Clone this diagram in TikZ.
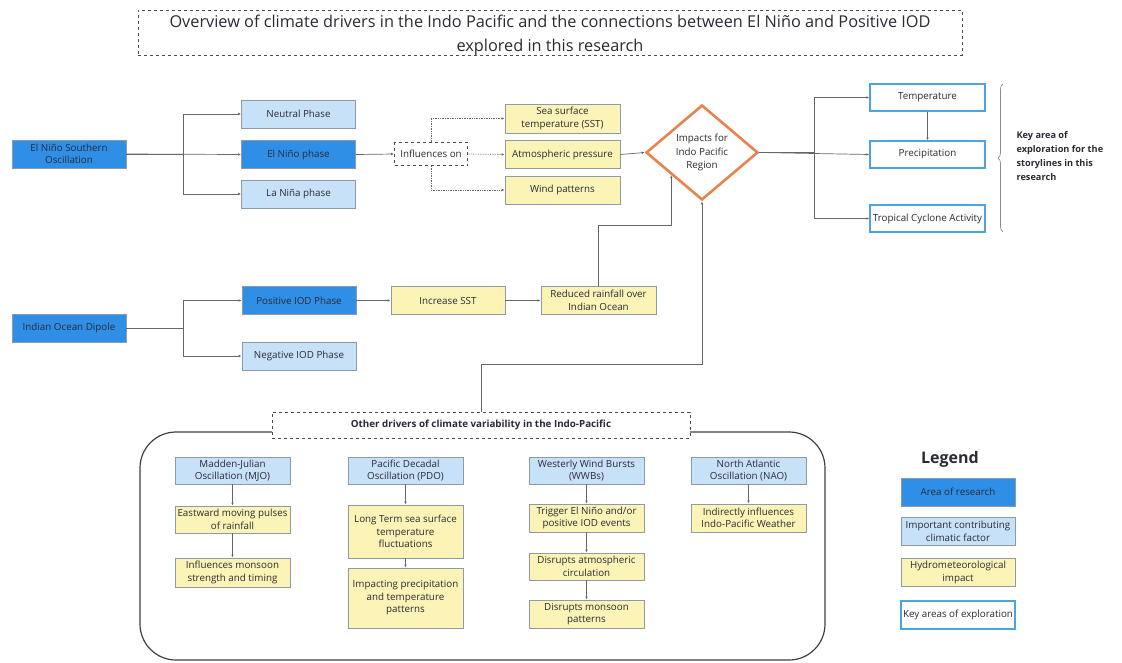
\documentclass[tikz,border=0pt]{standalone}
\usepackage{fontspec}
\setmainfont{Open Sans}
\usetikzlibrary{arrows.meta,shapes.geometric,decorations.pathreplacing,calc}
\definecolor{darkb}{HTML}{2F8FE6}
\definecolor{lightb}{HTML}{C7E2F8}
\definecolor{yel}{HTML}{FBF4B6}
\definecolor{bord}{HTML}{8C9BA6}
\definecolor{keyb}{HTML}{4CA3DE}
\definecolor{orng}{HTML}{E9834E}
\definecolor{lin}{HTML}{666666}
\definecolor{txt}{HTML}{2A2A35}
\tikzset{
  box/.style={draw=bord, line width=0.8pt, minimum width=114pt, minimum height=28pt, inner sep=1pt, align=center, font=\fontsize{9.8}{12.5}\selectfont, text=txt},
  dark/.style={box, fill=darkb},
  light/.style={box, fill=lightb},
  yb/.style={box, fill=yel},
  keyx/.style={box, draw=keyb, line width=1.3pt, fill=white},
  conn/.style={draw=lin, line width=0.7pt, -{Latex[length=3pt,width=2.5pt]}},
  dotc/.style={conn, densely dotted},
}
\begin{document}
\begin{tikzpicture}[x=1pt,y=-1pt]
\useasboundingbox (0,0) rectangle (1122,662);
% title
\node[draw=black!70, dashed, line width=0.8pt, minimum width=824pt, minimum height=45pt, inner sep=0pt] (titlebox) at (550,32.5) {};
\node[align=center, font=\fontsize{16.3}{24}\selectfont, text=txt, inner sep=0pt] (title) at (550,35.5) {Overview of climate drivers in the Indo Pacific and the connections between El Niño and Positive IOD\\explored in this research};
% ENSO
\node[dark] (enso) at (69,154) {El Niño Southern\\Oscillation};
\node[light] (neu) at (298.5,114) {Neutral Phase};
\node[dark] (eln) at (298.5,154.5) {El Niño phase};
\node[light] (lan) at (298.5,194) {La Niña phase};
\node[box, draw=black!70, dashed, line width=1pt, minimum width=73pt, minimum height=23pt] (inf) at (431,154) {Influences on};
\node[yb, minimum width=115pt, minimum height=29pt] (sst) at (562.5,118.5) {Sea surface\\temperature (SST)};
\node[yb, minimum width=115pt] (atm) at (562.5,154.5) {Atmospheric pressure};
\node[yb, minimum width=115pt] (wind) at (562.5,190) {Wind patterns};
\node[shape=diamond, draw=orng, line width=2.6pt, minimum width=112pt, minimum height=95pt, inner sep=0pt, align=center, font=\fontsize{9.8}{13.5}\selectfont, text=txt] (imp) at (702,152.5) {Impacts for\\Indo Pacific\\Region};
\node[keyx, minimum width=115pt, minimum height=27pt] (temp) at (927.5,97.5) {Temperature};
\node[keyx, minimum width=115pt, minimum height=27pt] (prec) at (927.5,154.5) {Precipitation};
\node[keyx, minimum width=115pt, minimum height=27pt] (tca) at (927.5,218.5) {Tropical Cyclone Activity};
\coordinate (bt) at (1003,84);
\coordinate (bb) at (1003,232);
\draw[draw=black!45, line width=0.7pt, decorate, decoration={brace, amplitude=5pt, mirror}] (bt) -- (bb);
\node[anchor=west, align=left, font=\bfseries\fontsize{9.2}{13.8}\selectfont, text=txt] (keytxt) at (1013,156) {Key area of\\exploration for the\\storylines in this\\research};
% IOD
\node[dark] (iod) at (69,328) {Indian Ocean Dipole};
\node[dark] (pos) at (299,300.5) {Positive IOD Phase};
\node[light] (neg) at (299,356) {Negative IOD Phase};
\node[yb] (inc) at (448,300.5) {Increase SST};
\node[yb, minimum width=115pt] (red) at (598.5,300.5) {Reduced rainfall over\\Indian Ocean};
% connectors top
\draw[conn] (enso.east) -- (eln.west);
\draw[conn] (enso.east) -- ++(57,0) |- (neu.west);
\draw[conn] (enso.east) -- ++(57,0) |- (lan.west);
\draw[conn] (eln.east) -- (inf.west);
\draw[dotc] (inf.north) |- (sst.west);
\draw[dotc] (inf.east) -- (atm.west);
\draw[dotc] (inf.south) |- (wind.west);
\draw[conn] (atm.east) -- (imp.west);
\draw[conn] (imp.east) -- (prec.west);
\draw[conn] (imp.east) -- ++(55,0) |- (temp.west);
\draw[conn] (imp.east) -- ++(55,0) |- (tca.west);
\draw[conn] (temp.south) -- (prec.north);
\draw[conn] (iod.east) -- ++(57,0) |- (pos.west);
\draw[conn] (iod.east) -- ++(57,0) |- (neg.west);
\draw[conn] (pos.east) -- (inc.west);
\draw[conn] (inc.east) -- (red.west);
\coordinate (rin) at ($(imp.west)!0.464!(imp.south)$);
\draw[conn] (red.north) |- ([yshift=-50pt]rin) -- (rin);
% bottom frame
\draw[draw=black!75, line width=1.2pt, rounded corners=36pt] (140,432) rectangle (825,660);
\node[box, dashed, draw=black!70, line width=1pt, fill=white, minimum width=418pt, minimum height=26pt, font=\bfseries\fontsize{9.8}{12}\selectfont] (oth) at (481,425) {Other drivers of climate variability in the Indo-Pacific};
\draw[conn] (oth.north) -- ++(0,-47) -| (imp.south);
% columns
\node[light, minimum width=115pt, minimum height=27pt] (mjo) at (232.5,470.5) {Madden-Julian\\Oscillation (MJO)};
\node[yb, minimum width=115pt, minimum height=27pt] (east) at (232.5,519.5) {Eastward moving pulses\\of rainfall};
\node[yb, minimum width=115pt, minimum height=29pt] (infm) at (232.5,572.5) {Influences monsoon\\strength and timing};
\node[light, minimum width=115pt, minimum height=27pt] (pdo) at (405.5,470.5) {Pacific Decadal\\Oscillation (PDO)};
\node[yb, minimum width=115pt, minimum height=53pt] (long) at (405.5,531.5) {Long Term sea surface\\temperature\\fluctuations};
\node[yb, minimum width=115pt, minimum height=60pt] (impp) at (405.5,598) {Impacting precipitation\\and temperature\\patterns};
\node[light, minimum width=115pt, minimum height=27pt] (wwb) at (586.5,470.5) {Westerly Wind Bursts\\(WWBs)};
\node[yb, minimum width=115pt] (trig) at (586.5,518) {Trigger El Niño and/or\\positive IOD events};
\node[yb, minimum width=115pt, minimum height=27pt] (dis) at (586.5,566.5) {Disrupts atmospheric\\circulation};
\node[yb, minimum width=115pt] (dism) at (586.5,614) {Disrupts monsoon\\patterns};
\node[light, minimum width=115pt, minimum height=27pt] (nao) at (748.5,470.5) {North Atlantic\\Oscillation (NAO)};
\node[yb, minimum width=115pt] (ind) at (748.5,518) {Indirectly influences\\Indo-Pacific Weather};
\draw[conn] (mjo) -- (east);
\draw[conn] (east) -- (infm);
\draw[conn] (pdo) -- (long);
\draw[conn] (long) -- (impp);
\draw[conn] (wwb) -- (trig);
\draw[conn] (trig) -- (dis);
\draw[conn] (dis) -- (dism);
\draw[conn] (nao) -- (ind);
% legend
\node[font=\bfseries\fontsize{16}{19}\selectfont, text=txt] (leg) at (950,459) {Legend};
\node[dark] (l1) at (958,492) {Area of research};
\node[light] (l2) at (958,531.5) {Important contributing\\climatic factor};
\node[yb] (l3) at (958,572.5) {Hydrometeorological\\impact};
\node[keyx] (l4) at (958,615) {Key areas of exploration};
\end{tikzpicture}
\end{document}
